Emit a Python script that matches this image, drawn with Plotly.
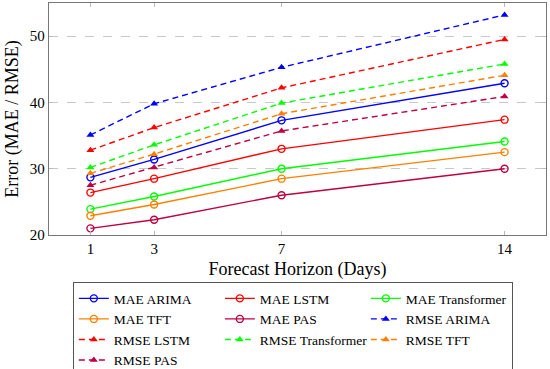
import plotly.graph_objects as go

horizons = [1, 3, 7, 14]
models = ["ARIMA", "LSTM", "Transformer", "TFT", "PAS"]
mae_arima = [28.7, 31.4, 37.3, 42.9]
mae_lstm = [26.4, 28.5, 33.0, 37.4]
mae_transformer = [23.9, 25.8, 30.0, 34.1]
mae_tft = [22.9, 24.6, 28.5, 32.5]
mae_pas = [21.0, 22.3, 26.0, 30.0]
rmse_arima = [35.1, 39.8, 45.3, 53.2]
rmse_lstm = [32.8, 36.2, 42.2, 49.5]
rmse_transformer = [30.2, 33.6, 39.9, 45.8]
rmse_tft = [29.3, 32.2, 38.3, 44.1]
rmse_pas = [27.5, 30.2, 35.7, 40.9]
y_ticks = [20, 30, 40, 50]

colors = {"ARIMA": "#0000ff", "LSTM": "#ff0000", "Transformer": "#00ff00",
          "TFT": "#ff8000", "PAS": "#bf0040"}
mae = {"ARIMA": mae_arima, "LSTM": mae_lstm, "Transformer": mae_transformer,
       "TFT": mae_tft, "PAS": mae_pas}
rmse = {"ARIMA": rmse_arima, "LSTM": rmse_lstm, "Transformer": rmse_transformer,
        "TFT": rmse_tft, "PAS": rmse_pas}

FONT = "Liberation Serif"
fig = go.Figure()
for m in models:
    fig.add_trace(go.Scatter(
        x=horizons, y=mae[m], mode="lines+markers", name=f"MAE {m}",
        line=dict(color=colors[m], width=1.4),
        marker=dict(symbol="circle-open", size=7, color=colors[m],
                    line=dict(width=1.4, color=colors[m]))))
for m in models:
    fig.add_trace(go.Scatter(
        x=horizons, y=rmse[m], mode="lines+markers", name=f"RMSE {m}",
        line=dict(color=colors[m], width=1.4, dash="6px,4px"),
        marker=dict(symbol="triangle-up", size=7, color=colors[m])))

fig.update_layout(
    width=550, height=369,
    margin=dict(l=49, r=4, t=3, b=133.5, autoexpand=False),
    paper_bgcolor="white", plot_bgcolor="white",
    font=dict(family=FONT, size=15, color="black"),
    showlegend=True,
    legend=dict(orientation="h", x=0.048, xanchor="left", y=-0.203, yanchor="top",
                entrywidth=101, entrywidthmode="pixels", itemwidth=30,
                bordercolor="#555555", borderwidth=1, font=dict(size=13.5),
                tracegroupgap=0),
)
fig.update_xaxes(
    range=[-0.3, 15.3], tickvals=horizons, ticktext=[str(h) for h in horizons],
    showgrid=False, zeroline=False, showline=True, linecolor="#777777", linewidth=1.3,
    mirror="ticks", ticks="inside", ticklen=4, tickcolor="#bbbbbb",
    automargin=False,
    title=dict(text="Forecast Horizon (Days)", standoff=6),
)
fig.update_yaxes(
    range=[20, 55], tickvals=y_ticks,
    showgrid=True, gridcolor="#c8c8c8", griddash="dash", gridwidth=1,
    zeroline=False, showline=True, linecolor="#777777", linewidth=1.3,
    mirror="ticks", ticks="inside", ticklen=4, tickcolor="#bbbbbb",
    automargin=False,
    title=dict(text="Error (MAE / RMSE)", standoff=6),
)
fig.write_html("out.html", config={"displayModeBar": False},
               post_script="document.body.style.margin='0px';")
